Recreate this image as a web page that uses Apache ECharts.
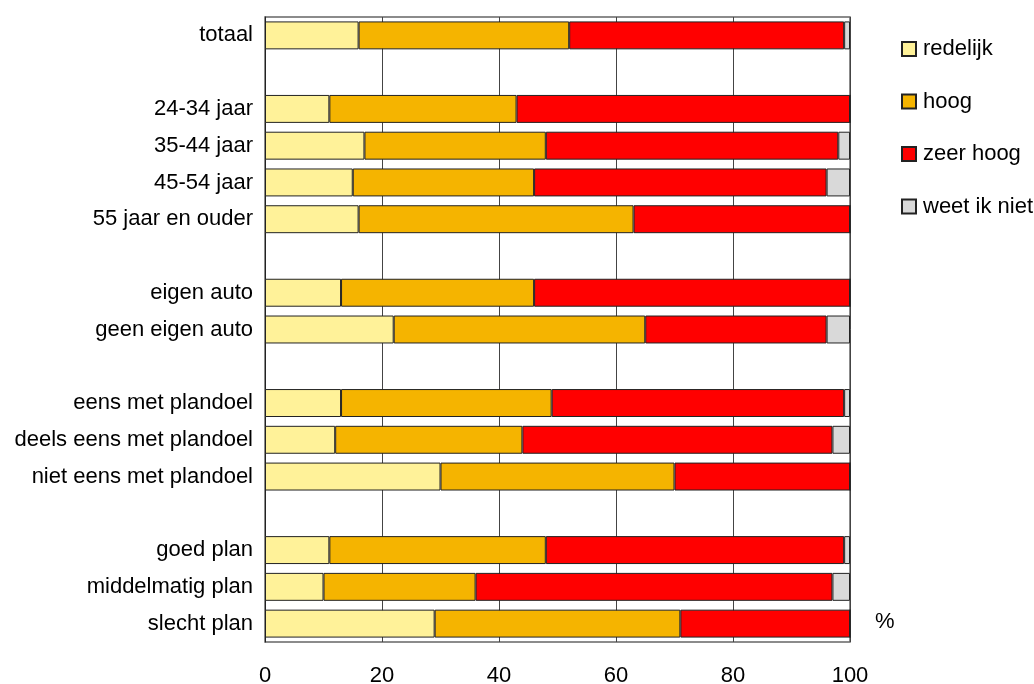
<!DOCTYPE html>
<html>
<head>
<meta charset="utf-8">
<script src="https://cdn.jsdelivr.net/npm/echarts@6/dist/echarts.min.js"></script>
<style>
  html, body { margin: 0; padding: 0; background: #fff; }
  #chart { width: 1034px; height: 684px; }
</style>
</head>
<body>
<div id="chart"></div>
<script>
// Categories (whitespace entries are spacer rows between groups)
const categories = [
  'totaal', ' ',
  '24-34 jaar', '35-44 jaar', '45-54 jaar', '55 jaar en ouder', '  ',
  'eigen auto', 'geen eigen auto', '   ',
  'eens met plandoel', 'deels eens met plandoel', 'niet eens met plandoel', '    ',
  'goed plan', 'middelmatig plan', 'slecht plan'
];

// Percentages per answer
const redelijk  = [16, null, 11, 17, 15, 16, null, 13, 22, null, 13, 12, 30, null, 11, 10, 29];
const hoog      = [36, null, 32, 31, 31, 47, null, 33, 43, null, 36, 32, 40, null, 37, 26, 42];
const zeerHoog  = [47, null, 57, 50, 50, 37, null, 54, 31, null, 50, 53, 30, null, 51, 61, 29];
const weetIkNiet = [1, null, 0, 2, 4, 0, null, 0, 4, null, 1, 3, 0, null, 1, 3, 0];

const xTicks = [0, 20, 40, 60, 80, 100];

const FONT = '"Liberation Sans", Arial, sans-serif';
const FS = 22;

function bar(name, data, color) {
  return {
    name, type: 'bar', stack: 'total', data,
    barCategoryGap: '24%',
    itemStyle: { color, borderColor: '#222', borderWidth: 1 },
    emphasis: { disabled: true }
  };
}

const chart = echarts.init(document.getElementById('chart'), null, { renderer: 'canvas' });
chart.setOption({
  animation: false,
  backgroundColor: '#fff',
  textStyle: { fontFamily: FONT },
  grid: {
    left: 265, right: 184, top: 17, bottom: 42,
    outerBoundsMode: 'none',
    containLabel: false,
    show: true, borderColor: '#666', borderWidth: 1.5
  },
  legend: {
    orient: 'vertical',
    left: 901, top: 38,
    padding: 0,
    icon: 'rect',
    itemWidth: 14, itemHeight: 14,
    itemGap: 30.5,
    textStyle: { fontFamily: FONT, fontSize: FS, color: '#000', padding: [0, 0, 0, 2] },
    data: ['redelijk', 'hoog', 'zeer hoog', 'weet ik niet']
  },
  xAxis: {
    type: 'value', min: xTicks[0], max: xTicks[xTicks.length - 1], interval: 20,
    axisLine: { show: false },
    axisTick: { show: false },
    axisLabel: { fontFamily: FONT, fontSize: FS, color: '#000', margin: 23 },
    splitLine: { show: true, lineStyle: { color: '#444', width: 1 } }
  },
  yAxis: {
    type: 'category', data: categories, inverse: true,
    axisLine: { show: true, lineStyle: { color: '#222', width: 1 } },
    axisTick: { show: false },
    axisLabel: { fontFamily: FONT, fontSize: FS, color: '#000', margin: 12, padding: [4, 0, 0, 0] }
  },
  graphic: [{
    type: 'text', left: 875, top: 611,
    style: { text: '%', font: FS + 'px ' + FONT, fill: '#000' }
  }],
  series: [
    bar('redelijk', redelijk, '#FFF299'),
    bar('hoog', hoog, '#F5B400'),
    bar('zeer hoog', zeerHoog, '#FF0000'),
    bar('weet ik niet', weetIkNiet, '#D9D9D9')
  ]
});
</script>
</body>
</html>
